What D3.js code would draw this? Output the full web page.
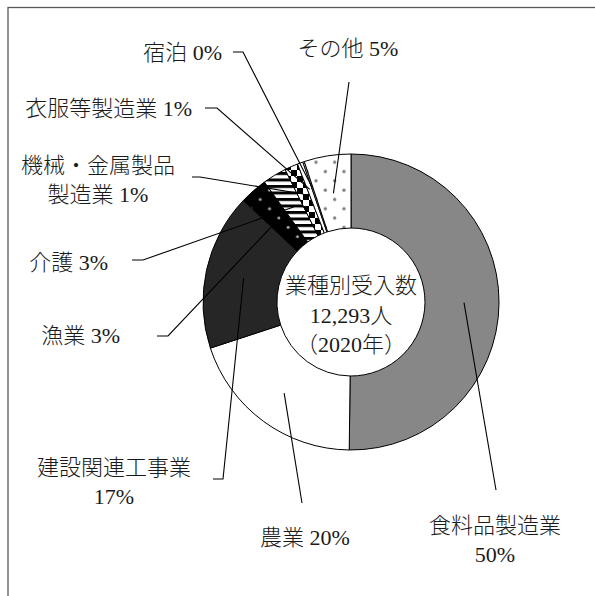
<!DOCTYPE html>
<html lang="ja">
<head>
<meta charset="utf-8">
<script src="https://cdn.jsdelivr.net/npm/d3@7"></script>
<style>
  html, body { margin: 0; padding: 0; background: #fff; }
  svg { display: block; }
  text { font-family: "Liberation Serif", "Noto Sans CJK JP", serif; font-weight: 300; fill: #1a1a1a; }
</style>
</head>
<body>
<svg id="chart" width="595" height="596"></svg>
<script>
// 業種別受入数（2020年）: categories and head counts, clockwise from 12 o'clock
const categories = [
  "食料品製造業", "農業", "建設関連工事業", "漁業", "介護",
  "機械・金属製品製造業", "衣服等製造業", "宿泊", "その他"
];
const counts = [6170, 2430, 2100, 370, 320, 180, 75, 20, 628];
const totalLabel = ["業種別受入数", "12,293人", "（2020年）"];

// label text lines for each category (the percentage is appended from the data)
const labelLines = [
  ["食料品製造業", ""], ["農業 "], ["建設関連工事業", ""], ["漁業 "], ["介護 "],
  ["機械・金属製品", "製造業 "], ["衣服等製造業 "], ["宿泊 "], ["その他 "]
];

// fill style per slice
const fills = [
  "#878787", "#ffffff", "#262626", "url(#dotsDark)", "url(#stripes)",
  "url(#checker)", "#ffffff", "#ffffff", "url(#dotsLight)"
];

// label placement: text anchor point, leader start / elbow, leader radius in the ring
const labelLayout = [
  { x: 495, y: 533, anchor: "middle", path: [[496, 490]], r: 113 },
  { x: 260, y: 545, anchor: "start",  path: [[302, 503]], r: 113 },
  { x: 114, y: 475, anchor: "middle", path: [[213, 479], [223, 479]], r: 110 },
  { x: 120, y: 343, anchor: "end",    path: [[157, 336], [168, 336]], r: 110 },
  { x: 108, y: 270, anchor: "end",    path: [[132, 260], [143, 260]], r: 111 },
  { x: 98,  y: 173, anchor: "middle", path: [[192, 177], [200, 177]], r: 118 },
  { x: 192, y: 116, anchor: "end",    path: [[205, 108], [217, 108]], r: 120 },
  { x: 222, y: 60,  anchor: "end",    path: [[233, 52], [243, 52]], r: 120 },
  { x: 348, y: 56,  anchor: "middle", path: [[349, 82]], r: 110 }
];

const svg = d3.select("#chart");
const cx = 351, cy = 302, outerR = 148, innerR = 74;
const fontSize = 22, lineGap = 28.5;

// patterns
const defs = svg.append("defs");
const dotStep = 18.6;
function dotPattern(id, bg, dot, r) {
  const p = defs.append("pattern").attr("id", id)
    .attr("patternUnits", "userSpaceOnUse")
    .attr("width", dotStep).attr("height", dotStep)
    .attr("x", cx).attr("y", cy);
  p.append("rect").attr("width", dotStep).attr("height", dotStep).attr("fill", bg);
  [[dotStep * 0.25, dotStep * 0.25], [dotStep * 0.75, dotStep * 0.75]].forEach(([x, y]) =>
    p.append("circle").attr("cx", x).attr("cy", y).attr("r", r).attr("fill", dot));
}
dotPattern("dotsLight", "#ffffff", "#7a7a7a", 1.6);
dotPattern("dotsDark", "#000000", "#a8a8a8", 1.5);

const stripes = defs.append("pattern").attr("id", "stripes")
  .attr("patternUnits", "userSpaceOnUse").attr("width", 10).attr("height", 6.5);
stripes.append("rect").attr("width", 10).attr("height", 6.5).attr("fill", "#fff");
stripes.append("rect").attr("width", 10).attr("height", 3).attr("fill", "#000");

const cell = 6;
const checker = defs.append("pattern").attr("id", "checker")
  .attr("patternUnits", "userSpaceOnUse").attr("width", cell * 2).attr("height", cell * 2);
checker.append("rect").attr("width", cell * 2).attr("height", cell * 2).attr("fill", "#fff");
checker.append("rect").attr("width", cell).attr("height", cell).attr("fill", "#000");
checker.append("rect").attr("x", cell).attr("y", cell).attr("width", cell).attr("height", cell).attr("fill", "#000");

// outer frame
svg.append("rect")
  .attr("x", 8).attr("y", 7.5).attr("width", 700).attr("height", 700)
  .attr("fill", "none").attr("stroke", "#5a5a5a").attr("stroke-width", 1.3);

const total = d3.sum(counts);
const data = categories.map((name, i) => ({ name, count: counts[i], i }));

const pie = d3.pie().sort(null).value(d => d.count).startAngle(0).endAngle(2 * Math.PI);
const arcs = pie(data);
const arc = d3.arc().innerRadius(innerR).outerRadius(outerR);

const g = svg.append("g").attr("transform", `translate(${cx},${cy})`);

g.selectAll("path.slice")
  .data(arcs)
  .join("path")
  .attr("class", "slice")
  .attr("d", arc)
  .attr("fill", d => fills[d.data.i])
  .attr("stroke", "#000")
  .attr("stroke-width", 1)
  .attr("stroke-linejoin", "round");

// leader lines from each label into its slice
const line = d3.line();
arcs.forEach(d => {
  const lay = labelLayout[d.data.i];
  const mid = (d.startAngle + d.endAngle) / 2;
  const inner = [cx + lay.r * Math.sin(mid), cy - lay.r * Math.cos(mid)];
  svg.append("path")
    .attr("d", line([...lay.path, inner]))
    .attr("fill", "none")
    .attr("stroke", "#000")
    .attr("stroke-width", 1.1);
});

// category labels with rounded percentages
arcs.forEach(d => {
  const lay = labelLayout[d.data.i];
  const pct = Math.round(d.data.count / total * 100) + "%";
  const lines = labelLines[d.data.i].slice();
  lines[lines.length - 1] = lines[lines.length - 1] + pct;
  const t = svg.append("text")
    .attr("text-anchor", lay.anchor)
    .attr("font-size", fontSize);
  lines.forEach((s, k) => {
    t.append("tspan").attr("x", lay.x).attr("y", lay.y + k * lineGap).text(s);
  });
});

// centre caption
const centre = svg.append("text").attr("text-anchor", "middle").attr("font-size", fontSize);
totalLabel.forEach((s, k) => {
  centre.append("tspan").attr("x", cx).attr("y", 293 + k * 29.5).text(s);
});
</script>
</body>
</html>
